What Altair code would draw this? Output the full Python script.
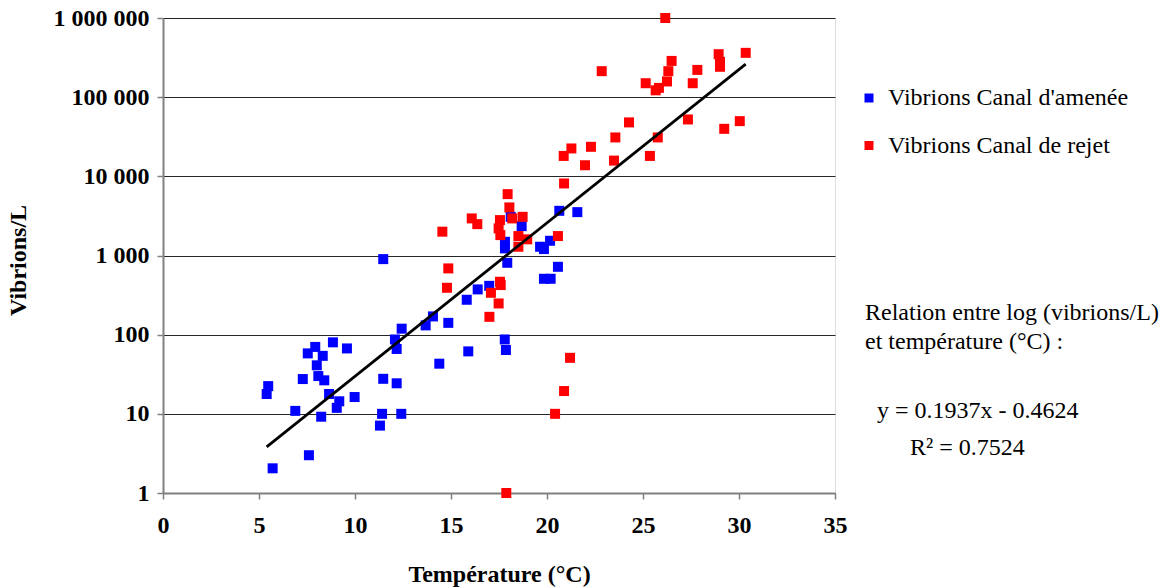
import altair as alt
import pandas as pd

# ---- data ----
amenee_temp = [5.48, 5.40, 5.71, 6.89, 7.60, 7.28, 7.54, 7.93, 8.32, 8.01, 8.09, 8.40, 8.85, 8.65,
               8.24, 9.18, 9.05, 9.58, 9.98, 11.47, 11.47, 11.41, 11.30, 12.08, 12.43, 12.17, 12.17,
               12.41, 13.68, 14.06, 14.86, 14.39, 15.82, 15.90, 16.39, 16.99, 17.81, 17.81, 17.93,
               18.11, 18.68, 19.64, 19.84, 20.16, 20.64, 21.58, 20.57, 19.84, 20.19, 17.80, 17.86]
amenee_vib = [22.4, 17.8, 2.05, 10.9, 3.0, 27.5, 58, 70, 54, 41, 30, 26.5, 80, 17.8,
              9.2, 14.4, 11.9, 67, 16.3, 900, 27.7, 10, 7.1, 87, 119, 66, 24.3,
              10, 131, 170, 141, 43, 276, 61.5, 373, 414, 1490, 1230, 809,
              3080, 2350, 1290, 1205, 1535, 3670, 3530, 720, 508, 508, 87, 64]

rejet_temp = [14.55, 14.86, 14.79, 16.08, 16.37, 17.95, 18.04, 18.19, 18.73, 17.55, 17.48, 17.57,
              18.51, 18.97, 18.51, 20.57, 20.89, 17.55, 17.59, 17.08, 17.48, 17.00, 21.20, 20.89,
              20.42, 17.88, 26.16, 22.85, 25.14, 25.66, 25.83, 26.25, 26.32, 26.49, 27.83, 27.59,
              28.94, 29.01, 29.01, 30.35, 27.34, 29.23, 30.04, 24.27, 23.56, 25.77, 22.29, 21.27,
              20.87, 21.98, 23.49, 25.36]
rejet_vib = [2000, 687, 391, 2940, 2490, 5960, 4050, 2940, 3080, 2800, 2200, 1810,
             1760, 1600, 1290, 1760, 8130, 466, 423, 338, 248, 168, 51, 19.4,
             10, 1, 1000000, 213000, 150000, 122000, 131000, 158000, 213000, 287000, 221000, 150000,
             349000, 279000, 242000, 363000, 52300, 39800, 49800, 48000, 31000, 31000, 23600, 22500,
             18100, 13800, 15800, 18100]

series_names = ["Vibrions Canal d'amenée", "Vibrions Canal de rejet"]
series_colors = ["#0000FF", "#FF0000"]

# trend line: log10(y) = 0.1937 x - 0.4624
slope = 0.1937
intercept = -0.4624
trend_x = [5.40, 30.35]

y_tick_values = [1, 10, 100, 1000, 10000, 100000, 1000000]
y_tick_labels = ["1", "10", "100", "1 000", "10 000", "100 000", "1 000 000"]
x_tick_values = [0, 5, 10, 15, 20, 25, 30, 35]

annotation_lines = ["Relation entre log (vibrions/L)", "et température (°C) :",
                    "y = 0.1937x - 0.4624", "R² = 0.7524"]

# ---- build tables ----
pts = pd.DataFrame({
    "temp": amenee_temp + rejet_temp,
    "vib": amenee_vib + rejet_vib,
    "serie": [series_names[0]] * len(amenee_temp) + [series_names[1]] * len(rejet_temp),
})
trend = pd.DataFrame({"temp": trend_x})

label_expr = ""
for v, l in zip(y_tick_values, y_tick_labels):
    label_expr += f"datum.value == {v} ? '{l}' : "
label_expr += "''"

FONT = "Liberation Serif, Times New Roman, serif"
AX_FS = 24
TXT_FS = 24

x_scale = alt.Scale(domain=[0, 35], nice=False, zero=False)
y_scale = alt.Scale(type="log", domain=[1, 1000000], nice=False)

x_axis = alt.Axis(values=x_tick_values, title="Température (°C)", grid=False,
                  labelFont=FONT, labelFontSize=AX_FS, labelFontWeight="bold", labelColor="black",
                  titleFont=FONT, titleFontSize=AX_FS, titleFontWeight="bold", titleColor="black",
                  domainColor="#808080", domainWidth=2, tickColor="#808080", tickWidth=1.5,
                  tickSize=6, labelPadding=14, titlePadding=25, labelFlush=False)
y_axis = alt.Axis(values=y_tick_values, labelExpr=label_expr, title="Vibrions/L",
                  grid=True, gridColor="black", gridWidth=1, gridOpacity=0.85,
                  labelFont=FONT, labelFontSize=AX_FS, labelFontWeight="bold", labelColor="black",
                  titleFont=FONT, titleFontSize=AX_FS, titleFontWeight="bold", titleColor="black",
                  domainColor="#808080", domainWidth=2, tickColor="#808080", tickWidth=1.5,
                  tickSize=6, labelPadding=8, titleX=-133, titleY=242, labelFlush=False)

points = alt.Chart(pts).mark_point(shape="square", filled=True, size=100, opacity=1).encode(
    x=alt.X("temp:Q", scale=x_scale, axis=x_axis),
    y=alt.Y("vib:Q", scale=y_scale, axis=y_axis),
    color=alt.Color("serie:N",
                    scale=alt.Scale(domain=series_names, range=series_colors),
                    legend=alt.Legend(title=None, orient="none", legendX=694, legendY=68,
                                      symbolType="square", symbolSize=81, symbolStrokeWidth=0,
                                      labelFont=FONT, labelFontSize=TXT_FS, labelColor="black",
                                      labelLimit=0, labelOffset=7, rowPadding=23.5, padding=0)),
    order=alt.Order("serie:N"),
)

line = alt.Chart(trend).transform_calculate(
    vib=f"pow(10, {slope} * datum.temp + ({intercept}))"
).mark_line(color="black", strokeWidth=2.8).encode(
    x=alt.X("temp:Q", scale=x_scale),
    y=alt.Y("vib:Q", scale=y_scale),
)

ann_pos = [(702, 295), (702, 324), (714, 393), (747, 430)]
texts = []
for t, (px, py) in zip(annotation_lines, ann_pos):
    texts.append(
        alt.Chart(alt.Data(values=[{}])).mark_text(
            text=t, font=FONT, fontSize=TXT_FS, color="black", align="left", baseline="middle"
        ).encode(x=alt.value(px), y=alt.value(py))
    )

chart = alt.layer(points, line, *texts).properties(
    width=672, height=475,
    autosize=alt.AutoSizeParams(type="none"),
    padding={"left": 163, "top": 18, "right": 341, "bottom": 95},
).configure_view(stroke=None).configure(background="white")

chart.save("out.html", embed_options={"renderer": "svg", "actions": False})
